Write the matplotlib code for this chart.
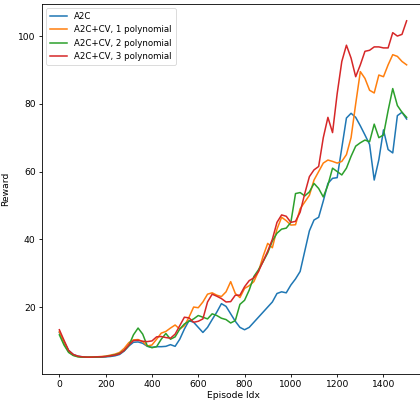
import matplotlib
matplotlib.use("Agg")
import matplotlib.pyplot as plt

episodes = list(range(0, 1501, 20))

a2c = [12.5, 9.8, 7.2, 6.0, 5.5, 5.3, 5.2, 5.2, 5.2, 5.2,
       5.3, 5.4, 5.6, 6.0, 7.0, 8.5, 9.6, 9.7, 9.3, 8.4,
       8.1, 8.3, 8.3, 8.4, 8.9, 8.4, 10.5, 13.5, 16.0, 15.5,
       14.0, 12.5, 14.0, 16.3, 18.5, 21.0, 20.2, 18.0, 15.8, 14.0,
       13.3, 14.0, 15.5, 17.0, 18.5, 20.0, 21.5, 24.0, 24.5, 24.2,
       26.5, 28.3, 30.5, 36.5, 42.5, 45.7, 46.5, 51.3, 56.5, 58.0,
       58.2, 67.0, 75.8, 77.2, 76.0, 73.5, 70.8, 68.0, 57.5, 63.5,
       72.3, 66.5, 65.5, 76.5, 77.5, 75.5]

cv1 = [12.8, 9.2, 6.8, 5.8, 5.4, 5.2, 5.2, 5.3, 5.3, 5.4,
       5.5, 5.8, 6.1, 6.6, 7.8, 9.5, 10.3, 10.4, 9.8, 8.5,
       8.8, 10.5, 12.3, 12.8, 13.8, 14.7, 13.5, 14.5, 17.0, 20.0,
       19.8, 21.5, 23.8, 24.2, 23.5, 23.1, 24.5, 27.5, 24.0, 22.8,
       25.5, 26.3, 27.5, 30.5, 35.0, 38.8, 37.5, 43.0, 46.5, 45.5,
       44.2, 44.3, 49.0, 51.0, 53.0, 57.5, 60.0, 62.5, 63.4, 63.0,
       62.5, 63.0, 65.0, 70.0, 80.0, 89.5, 87.5, 84.0, 83.2, 88.5,
       88.0, 91.5, 94.5, 94.0, 92.5, 91.5]

cv2 = [11.8, 8.8, 6.6, 5.7, 5.3, 5.2, 5.2, 5.2, 5.2, 5.3,
       5.4, 5.6, 5.9, 6.3, 7.2, 8.6, 11.8, 13.8, 12.0, 8.5,
       8.0, 8.3, 10.5, 12.2, 10.5, 11.2, 13.5, 15.0, 15.8, 16.5,
       17.5, 17.0, 16.5, 18.0, 17.5, 16.7, 16.3, 15.3, 16.0, 20.8,
       22.0, 25.0, 29.0, 31.0, 33.4, 36.0, 39.5, 41.8, 43.0, 43.3,
       45.0, 53.5, 53.8, 52.8, 54.0, 56.5, 55.0, 52.5, 56.0, 61.0,
       60.0, 59.0, 61.0, 64.5, 67.5, 68.5, 69.3, 68.8, 74.0, 70.0,
       70.8, 78.0, 84.5, 79.5, 77.5, 76.0]

cv3 = [13.3, 10.2, 7.2, 6.0, 5.5, 5.3, 5.2, 5.2, 5.3, 5.3,
       5.4, 5.6, 5.8, 6.2, 7.2, 8.8, 10.1, 10.2, 9.9, 9.8,
       10.0, 11.2, 11.3, 11.0, 10.8, 12.0, 14.5, 17.0, 16.8, 15.5,
       15.8, 16.5, 21.5, 23.8, 23.2, 22.5, 21.5, 21.6, 23.5, 23.5,
       26.0, 27.8, 28.6, 30.5, 33.5, 36.5, 40.0, 45.0, 47.2, 46.8,
       45.0, 45.3, 48.0, 53.5, 58.5, 60.5, 61.5, 70.0, 76.0, 71.5,
       83.0, 92.5, 97.3, 93.5, 88.0, 91.5, 95.5, 95.8, 96.8, 96.8,
       96.5, 96.5, 101.0, 100.0, 100.5, 104.5]

labels = ["A2C", "A2C+CV, 1 polynomial", "A2C+CV, 2 polynomial", "A2C+CV, 3 polynomial"]
colors = ["#1f77b4", "#ff7f0e", "#2ca02c", "#d62728"]

fs = 6.6
fig = plt.figure(figsize=(4.2, 4.0), dpi=100)
ax = fig.add_axes([0.1, 0.065, 0.9095, 0.925])
for series, lab, col in zip([a2c, cv1, cv2, cv3], labels, colors):
    ax.plot(episodes, series, color=col, lw=1.1, label=lab,
            solid_joinstyle="round")

ax.set_xticks([0, 200, 400, 600, 800, 1000, 1200, 1400])
ax.set_yticks([20, 40, 60, 80, 100])
ax.tick_params(labelsize=fs, length=2.5, width=0.6, pad=2)
for s in ax.spines.values():
    s.set_linewidth(0.6)
ax.set_xlabel("Episode Idx", fontsize=fs, labelpad=1)
ax.set_ylabel("Reward", fontsize=fs, labelpad=6)
leg = ax.legend(loc="upper left", fontsize=6.2, handlelength=2.0,
                borderpad=0.45, labelspacing=0.5)
leg.get_frame().set_linewidth(0.6)
fig.savefig("out.png", dpi=100)
